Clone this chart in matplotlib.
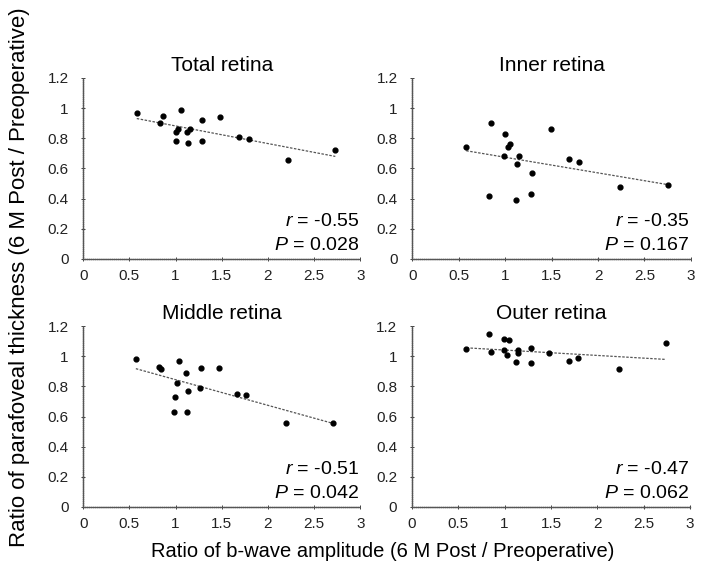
import numpy as np
import matplotlib.pyplot as plt

plt.rcParams['font.family'] = ['Liberation Sans', 'DejaVu Sans']
plt.rcParams['mathtext.fontset'] = 'custom'
plt.rcParams['mathtext.it'] = 'Liberation Sans:italic'
plt.rcParams['mathtext.rm'] = 'Liberation Sans'

# b-wave ratio (x) per panel, and thickness ratio (y)
x_total = [0.58, 0.83, 0.86, 1.00, 1.00, 1.03, 1.06, 1.12, 1.14, 1.16, 1.29, 1.29, 1.48, 1.69, 1.79, 2.22, 2.73]
y_total = [0.97, 0.90, 0.945, 0.84, 0.78, 0.86, 0.99, 0.84, 0.77, 0.86, 0.92, 0.78, 0.94, 0.81, 0.795, 0.655, 0.72]

x_inner = [0.58, 0.83, 0.85, 0.99, 1.00, 1.03, 1.05, 1.12, 1.13, 1.15, 1.28, 1.29, 1.49, 1.69, 1.79, 2.24, 2.75]
y_inner = [0.745, 0.42, 0.90, 0.685, 0.83, 0.74, 0.76, 0.39, 0.63, 0.68, 0.43, 0.57, 0.86, 0.66, 0.645, 0.475, 0.49]

x_middle = [0.57, 0.82, 0.84, 0.98, 0.99, 1.02, 1.04, 1.11, 1.12, 1.13, 1.27, 1.28, 1.47, 1.67, 1.76, 2.20, 2.71]
y_middle = [0.98, 0.93, 0.915, 0.63, 0.73, 0.82, 0.965, 0.89, 0.63, 0.77, 0.79, 0.92, 0.92, 0.75, 0.745, 0.56, 0.56]

x_outer = [0.59, 0.83, 0.85, 0.99, 0.99, 1.03, 1.05, 1.12, 1.14, 1.14, 1.28, 1.29, 1.48, 1.69, 1.79, 2.23, 2.74]
y_outer = [1.05, 1.15, 1.03, 1.115, 1.04, 1.005, 1.11, 0.96, 1.04, 1.02, 0.953, 1.053, 1.02, 0.97, 0.987, 0.913, 1.09]

titles = ['Total retina', 'Inner retina', 'Middle retina', 'Outer retina']
r_vals = ['-0.55', '-0.35', '-0.51', '-0.47']
p_vals = ['0.028', '0.167', '0.042', '0.062']

xs = [x_total, x_inner, x_middle, x_outer]
ys = [y_total, y_inner, y_middle, y_outer]

fig = plt.figure(figsize=(7.05, 5.69), dpi=100)

# posiciones de los ejes (fracción de la figura)
pos = [[0.118, 0.545, 0.393, 0.318],
       [0.585, 0.545, 0.395, 0.318],
       [0.118, 0.109, 0.393, 0.318],
       [0.584, 0.109, 0.395, 0.318]]

for i in range(4):
    ax = fig.add_axes(pos[i])
    x = np.array(xs[i])
    y = np.array(ys[i])
    ax.scatter(x, y, s=12, color='black', zorder=3)
    # línea de regresión
    m, b = np.polyfit(x, y, 1)
    xl = np.array([x.min(), x.max()])
    ax.plot(xl, m * xl + b, color='#555555', linestyle=(0, (2, 1.2)), linewidth=0.9)

    ax.set_xlim(0, 3)
    ax.set_ylim(0, 1.2)
    ax.set_xticks([0, 0.5, 1, 1.5, 2, 2.5, 3])
    ax.set_xticklabels(['0', '0.5', '1', '1.5', '2', '2.5', '3'])
    ax.set_yticks([0, 0.2, 0.4, 0.6, 0.8, 1, 1.2])
    ax.set_yticklabels(['0', '0.2', '0.4', '0.6', '0.8', '1', '1.2'])
    ax.tick_params(direction='inout', length=3, width=0.6, labelsize=11, pad=6, colors='#222222')
    ax.tick_params(axis='y', pad=9)
    for s in ['top', 'right']:
        ax.spines[s].set_visible(False)
    for s in ['left', 'bottom']:
        ax.spines[s].set_color('#555555')
        ax.spines[s].set_linewidth(1.0)
        ax.spines[s].set_linestyle((0, (1, 0.5)))
    ax.set_title(titles[i], fontsize=15, pad=5)
    ax.text(0.995, 0.205, '$r$ = ' + r_vals[i], transform=ax.transAxes, ha='right', va='center', fontsize=14)
    ax.text(0.995, 0.075, '$P$ = ' + p_vals[i], transform=ax.transAxes, ha='right', va='center', fontsize=14)

fig.text(0.543, 0.03, 'Ratio of b-wave amplitude (6 M Post / Preoperative)', ha='center', va='center', fontsize=14.5)
fig.text(0.027, 0.513, 'Ratio of parafoveal thickness (6 M Post / Preoperative)', ha='center', va='center',
         rotation=90, fontsize=16)

fig.savefig('out.png', dpi=100)
